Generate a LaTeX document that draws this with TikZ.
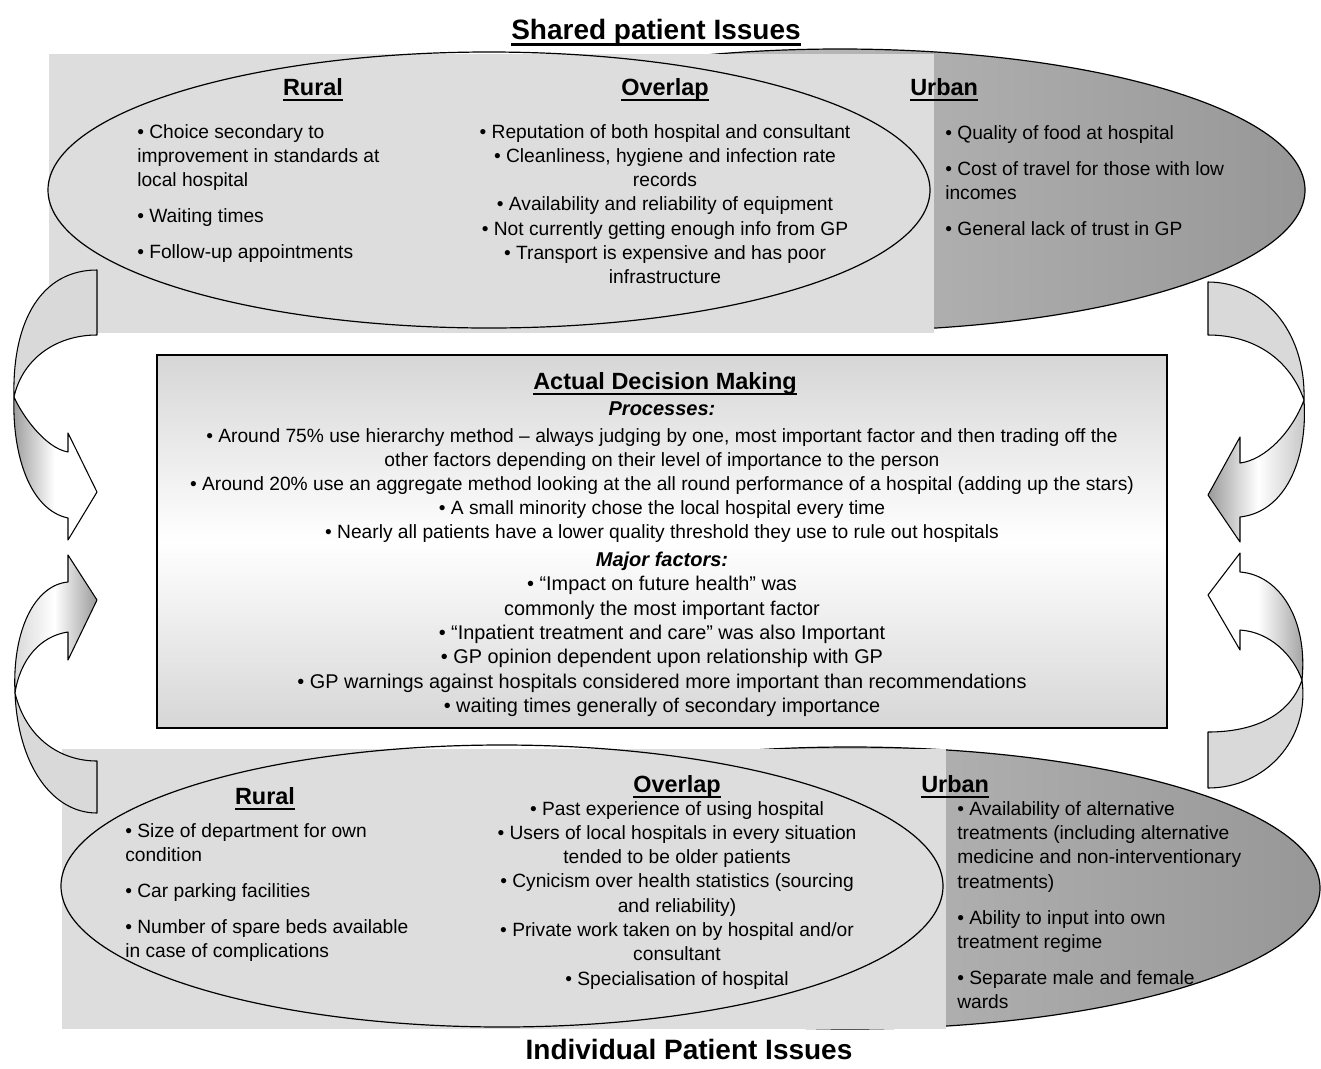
\documentclass[tikz,border=0pt]{standalone}
\usepackage{fontspec}
\setmainfont{Liberation Sans}
\usetikzlibrary{positioning}
\definecolor{bandgray}{HTML}{DDDDDD}
\definecolor{urbanlight}{HTML}{D2D2D2}
\definecolor{urbandark}{HTML}{979797}
\definecolor{boxgray}{HTML}{D6D6D6}
\definecolor{arrowback}{HTML}{D9D9D9}
\definecolor{arrowshade}{HTML}{9A9A9A}
\newcommand{\hdul}[1]{\setbox0\hbox{#1}\rlap{\rule[-0.24em]{\wd0}{0.09em}}\box0}

\begin{document}
\begin{tikzpicture}[x=0.75pt,y=-0.75pt,
  heading/.style={inner sep=0pt,font=\fontsize{17.6}{21}\selectfont\bfseries},
  bigtitle/.style={inner sep=0pt,font=\fontsize{21}{25}\selectfont\bfseries},
  subhead/.style={inner sep=0pt,font=\fontsize{15}{18}\selectfont\bfseries\itshape},
  listleft/.style={inner sep=0pt,anchor=north west,align=left,font=\fontsize{14.4}{18.3}\selectfont},
  listmid/.style={inner sep=0pt,anchor=north,align=center,font=\fontsize{14.4}{18.2}\selectfont},
  boxtext/.style={inner sep=0pt,anchor=north,align=center,font=\fontsize{14.4}{18}\selectfont},
  outline/.style={draw=black,line width=0.9pt},
  backface/.style={fill=arrowback,draw=black,line width=0.8pt,line join=round},
  frontface/.style={draw=black,line width=0.8pt,line join=round}]

\useasboundingbox (0,0) rectangle (1321,1068);

% shared issues band
\shadedraw[outline,left color=urbanlight,right color=urbandark] (840,190) ellipse [x radius=465,y radius=141];
\fill[bandgray] (49,54) rectangle (934,333);
\draw[outline] (489,190) ellipse [x radius=441,y radius=138];

% individual issues band
\shadedraw[outline,left color=urbanlight,right color=urbandark] (850,888) ellipse [x radius=470,y radius=141];
\fill[bandgray] (62,749) rectangle (946,1029);
\draw[outline] (502,886) ellipse [x radius=441,y radius=141];

% decision box
\shadedraw[draw=black,line width=0.8pt,top color=boxgray,bottom color=boxgray,middle color=white] (157,355) rectangle (1167,728);

% curved arrows, left side
\filldraw[backface] (97,270) .. controls (42,270) and (12,320) .. (14,397) .. controls (22,360) and (55,335) .. (97,335) -- cycle;
\shadedraw[frontface,left color=arrowshade,right color=white,middle color=white] (14,397) .. controls (12,455) and (30,510) .. (68,518) -- (68,540) -- (97,492) -- (68,433) -- (68,452) .. controls (45,448) and (22,415) .. (14,397) -- cycle;
\shadedraw[frontface,left color=arrowshade!40!white,right color=arrowshade,middle color=white] (15,693) .. controls (12,630) and (35,585) .. (68,582) -- (68,555) -- (97,600) -- (68,660) -- (68,632) .. controls (40,636) and (20,660) .. (15,693) -- cycle;
\filldraw[backface] (15,693) .. controls (18,765) and (52,813) .. (97,813) -- (97,761) .. controls (60,761) and (26,738) .. (15,693) -- cycle;

% curved arrows, right side
\filldraw[backface] (1208,282) .. controls (1262,282) and (1306,330) .. (1304,400) .. controls (1290,360) and (1255,335) .. (1208,335) -- cycle;
\shadedraw[frontface,left color=arrowshade,right color=arrowshade!60!white,middle color=white] (1304,400) .. controls (1308,460) and (1285,512) .. (1240,517) -- (1240,542) -- (1208,495) -- (1240,437) -- (1240,463) .. controls (1265,460) and (1292,432) .. (1304,400) -- cycle;
\shadedraw[frontface,left color=white,right color=arrowshade,middle color=white] (1302,680) .. controls (1308,620) and (1280,575) .. (1240,572) -- (1240,553) -- (1208,595) -- (1240,650) -- (1240,630) .. controls (1270,632) and (1293,655) .. (1302,680) -- cycle;
\filldraw[backface] (1302,680) .. controls (1310,740) and (1265,788) .. (1208,788) -- (1208,732) .. controls (1255,732) and (1290,715) .. (1302,680) -- cycle;

% titles
\node[bigtitle,anchor=base] (shared) at (656,39) {\hdul{Shared patient Issues}};
\node[bigtitle,anchor=base] (indiv) at (689,1059) {Individual Patient Issues};

% shared issues
\node[heading,anchor=base] (ruralT) at (313,95) {\hdul{Rural}};
\node[heading,anchor=base] (overlapT) at (665,95) {\hdul{Overlap}};
\node[heading,anchor=base west] (urbanT) at (910,95) {\hdul{Urban}};
\node[listleft] (ruralTlist) at (137,124) {• Choice secondary to\\improvement in standards at\\local hospital\\[8.6pt]• Waiting times\\[8.6pt]• Follow-up appointments};
\node[listmid] (overlapTlist) at (665,124) {• Reputation of both hospital and consultant\\• Cleanliness, hygiene and infection rate\\records\\• Availability and reliability of equipment\\• Not currently getting enough info from GP\\• Transport is expensive and has poor\\infrastructure};
\node[listleft] (urbanTlist) at (945,125) {• Quality of food at hospital\\[8.6pt]• Cost of travel for those with low\\incomes\\[8.6pt]• General lack of trust in GP};

% decision making
\node[heading,anchor=base] (adm) at (665,389) {\hdul{Actual Decision Making}};
\node[subhead,anchor=base] (proc) at (662,415) {Processes:};
\node[boxtext] (proclist) at (662,428) {• Around 75\% use hierarchy method – always judging by one, most important factor and then trading off the\\other factors depending on their level of importance to the person\\• Around 20\% use an aggregate method looking at the all round performance of a hospital (adding up the stars)\\• A small minority chose the local hospital every time\\• Nearly all patients have a lower quality threshold they use to rule out hospitals};
\node[subhead,anchor=base] (major) at (662,566) {Major factors:};
\node[boxtext,font=\fontsize{14.9}{18.3}\selectfont] (majorlist) at (662,576) {• “Impact on future health” was\\commonly the most important factor\\• “Inpatient treatment and care” was also Important\\• GP opinion dependent upon relationship with GP\\• GP warnings against hospitals considered more important than recommendations\\• waiting times generally of secondary importance};

% individual issues
\node[heading,anchor=base] (ruralB) at (265,804) {\hdul{Rural}};
\node[heading,anchor=base] (overlapB) at (677,792) {\hdul{Overlap}};
\node[heading,anchor=base west] (urbanB) at (921,792) {\hdul{Urban}};
\node[listleft] (ruralBlist) at (125,823) {• Size of department for own\\condition\\[8.6pt]• Car parking facilities\\[8.6pt]• Number of spare beds available\\in case of complications};
\node[listmid] (overlapBlist) at (677,801) {• Past experience of using hospital\\• Users of local hospitals in every situation\\tended to be older patients\\• Cynicism over health statistics (sourcing\\and reliability)\\• Private work taken on by hospital and/or\\consultant\\• Specialisation of hospital};
\node[listleft] (urbanBlist) at (957,801) {• Availability of alternative\\treatments (including alternative\\medicine and non-interventionary\\treatments)\\[8.6pt]• Ability to input into own\\treatment regime\\[8.6pt]• Separate male and female\\wards};
\end{tikzpicture}
\end{document}
